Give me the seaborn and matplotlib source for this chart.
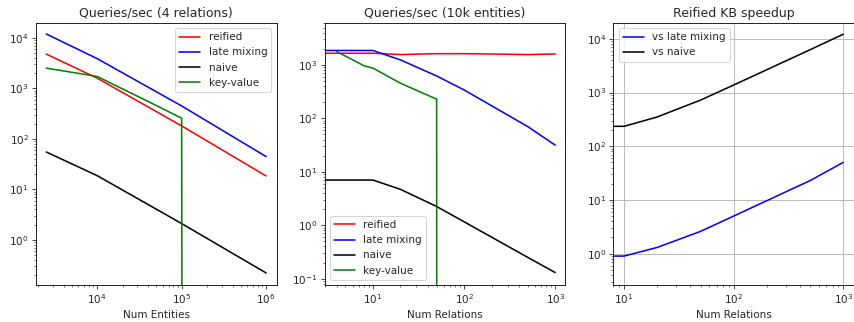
import numpy as np
import pandas as pd
import seaborn as sns
import matplotlib
matplotlib.use("Agg")
import matplotlib.pyplot as plt

# panel 1: queries/sec vs number of entities (4 relations)
entities = [2500, 10000, 100000, 1000000]
ent_reified = [4800, 1600, 181, 18.4]
ent_late = [12000, 3900, 450, 44.6]
ent_naive = [55, 18.7, 2.1, 0.22]
entities_kv = [2500, 10000, 50000, 100000, 1000000]
ent_keyvalue = [2530, 1730, 460, 257, 0]

# panel 2: queries/sec vs number of relations (10k entities)
relations = [3, 4, 8, 10, 20, 50, 100, 500, 1000]
rel_reified = [1650, 1650, 1650, 1650, 1560, 1620, 1620, 1560, 1600]
rel_late = [1860, 1860, 1860, 1860, 1240, 620, 340, 70, 31.5]
rel_naive = [7.0, 7.0, 7.0, 7.0, 4.7, 2.24, 1.16, 0.25, 0.13]
rel_keyvalue = [np.nan, 1780, 960, 870, 455, 228, 0, np.nan, np.nan]

# panel 3: speedup of reified KB
speed_late = [0.9, 0.9, 0.9, 0.9, 1.3, 2.6, 5.0, 23, 50]
speed_naive = [235, 235, 235, 235, 350, 725, 1380, 6300, 12200]

DPI = 75

sns.set_style("ticks")
plt.rcParams['font.family'] = ['DejaVu Sans']
plt.rcParams['axes.edgecolor'] = 'black'

fig, axes = plt.subplots(1, 3, figsize=(854 / DPI, 322 / DPI), dpi=DPI)
fig.subplots_adjust(left=0.0422, right=1.0, bottom=0.115, top=0.929, wspace=0.2)


def line(ax, x, y, label, color):
    df = pd.DataFrame({'x': x, 'y': y}).dropna()
    sns.lineplot(data=df, x='x', y='y', ax=ax, label=label, color=color,
                 linewidth=1.5, sort=False, legend=False)


#
# Queries/sec (4 relations)
#
ax = axes[0]
line(ax, entities, ent_reified, 'reified', 'r')
line(ax, entities, ent_late, 'late mixing', 'b')
line(ax, entities, ent_naive, 'naive', 'k')
line(ax, entities_kv, ent_keyvalue, 'key-value', 'g')
ax.set_xscale('log')
ax.set_yscale('log')
ax.set_xlim(1890, 1.33e6)
ax.set_ylim(10 ** -0.895, 10 ** 4.3)
ax.set_title('Queries/sec (4 relations)')
ax.set_xlabel('Num Entities')
ax.set_ylabel('')
ax.legend(loc='upper right')

#
# Queries/sec (10k entities)
#
ax = axes[1]
line(ax, relations, rel_reified, 'reified', 'r')
line(ax, relations, rel_late, 'late mixing', 'b')
line(ax, relations, rel_naive, 'naive', 'k')
line(ax, relations, rel_keyvalue, 'key-value', 'g')
ax.set_xscale('log')
ax.set_yscale('log')
ax.set_xlim(2.96, 1290)
ax.set_ylim(10 ** -1.118, 10 ** 3.786)
ax.set_title('Queries/sec (10k entities)')
ax.set_xlabel('Num Relations')
ax.set_ylabel('')
ax.legend(loc='lower left')

#
# Reified KB speedup
#
ax = axes[2]
line(ax, relations, speed_late, 'vs late mixing', 'b')
line(ax, relations, speed_naive, 'vs naive', 'k')
ax.set_xscale('log')
ax.set_yscale('log')
ax.set_xlim(8.0, 1253)
ax.set_ylim(10 ** -0.584, 10 ** 4.298)
ax.grid(True, which='major', color='#b0b0b0', linewidth=0.8)
ax.set_title('Reified KB speedup')
ax.set_xlabel('Num Relations')
ax.set_ylabel('')
ax.legend(loc='upper left')

fig.savefig('out.png', dpi=DPI)
